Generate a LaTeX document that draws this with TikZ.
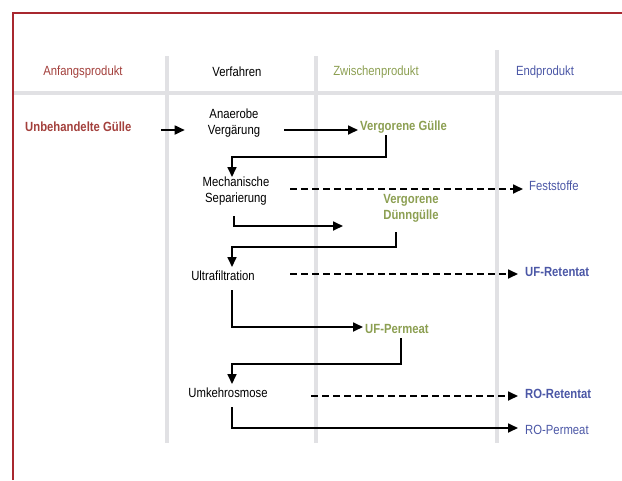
\documentclass[tikz,border=0pt]{standalone}
\usepackage{fontspec}
\setmainfont{Liberation Sans}[FakeStretch=0.85]
\usetikzlibrary{arrows.meta}
\definecolor{framered}{HTML}{A8282F}
\definecolor{redc}{HTML}{A3403C}
\definecolor{greenc}{HTML}{8C9F52}
\definecolor{bluec}{HTML}{4B57A6}
\definecolor{gridc}{HTML}{E1E1E4}
\begin{document}
\begin{tikzpicture}[x=1pt,y=-1pt,
  txt/.style={inner sep=0pt,font=\fontsize{13.3}{16}\selectfont,align=center},
  boldtxt/.style={txt,font=\fontsize{13.3}{16}\selectfont\bfseries},
  grid/.style={draw=gridc,line width=4pt},
  arr/.style={draw=black,line width=1.7pt,-{Triangle[length=10pt,width=9pt]}},
  darr/.style={arr,dash pattern=on 7pt off 4pt}]
\useasboundingbox (0,0) rectangle (622,480);
% grid
\draw[grid] (13,93) -- (622,93);
\draw[grid] (166.5,56) -- (166.5,443);
\draw[grid] (316,56) -- (316,443);
\draw[grid] (497,50) -- (497,443);
% frame
\draw[draw=framered,line width=1.2pt] (13,480) -- (13,13) -- (622,13);
% headers
\node[txt,text=redc] (h1) at (83,72) {Anfangsprodukt};
\node[txt] (h2) at (237,72) {Verfahren};
\node[txt,text=greenc] (h3) at (376,72) {Zwischenprodukt};
\node[txt,text=bluec] (h4) at (545,72) {Endprodukt};
% content nodes
\node[boldtxt,text=redc,anchor=west] (ug) at (25,127) {Unbehandelte Gülle};
\node[txt] (av) at (234,123) {Anaerobe\\Vergärung};
\node[boldtxt,text=greenc,anchor=west] (vgu) at (360,127) {Vergorene Gülle};
\node[txt] (ms) at (236,191) {Mechanische\\Separierung};
\node[txt,text=bluec,anchor=west] (fs) at (529,186) {Feststoffe};
\node[boldtxt,text=greenc] (vd) at (411,208) {Vergorene\\Dünngülle};
\node[txt] (uf) at (223,276) {Ultrafiltration};
\node[boldtxt,text=bluec,anchor=west] (ufr) at (525,272) {UF-Retentat};
\node[boldtxt,text=greenc,anchor=west] (ufp) at (365,329) {UF-Permeat};
\node[txt] (ro) at (228,393) {Umkehrosmose};
\node[boldtxt,text=bluec,anchor=west] (ror) at (525,394) {RO-Retentat};
\node[txt,text=bluec,anchor=west] (rop) at (525,430) {RO-Permeat};
% bend and end coordinates
\coordinate (s1) at (161,130);
\coordinate (s2) at (284,130);
\coordinate (s3) at (386,135);
\coordinate (b3a) at (386,157);
\coordinate (b3b) at (232,157);
\coordinate (e3) at (232,177);
\coordinate (s4) at (290,189);
\coordinate (s5) at (234,216);
\coordinate (b5) at (234,226);
\coordinate (e5) at (343,226);
\coordinate (s6) at (396,232);
\coordinate (b6a) at (396,247);
\coordinate (b6b) at (232,247);
\coordinate (e6) at (232,267);
\coordinate (s7) at (290,274);
\coordinate (s8) at (232,290);
\coordinate (b8) at (232,327);
\coordinate (s9) at (401,338);
\coordinate (b9a) at (401,364);
\coordinate (b9b) at (232,364);
\coordinate (e9) at (232,384);
\coordinate (s10) at (311,396);
\coordinate (s11) at (232,407);
\coordinate (b11) at (232,428);
% connectors
\draw[arr] (s1) -- ([shift={(-23,0)}]av.west |- s1);
\draw[arr] (s2) -- ([shift={(-2,3)}]vgu.west);
\draw[arr] (s3) -- (b3a) -- (b3b) -- (e3);
\draw[darr] (s4) -- ([shift={(-6,3)}]fs.west);
\draw[arr] (s5) -- (b5) -- (e5);
\draw[arr] (s6) -- (b6a) -- (b6b) -- (e6);
\draw[darr] (s7) -- ([shift={(-7,2)}]ufr.west);
\draw[arr] (s8) -- (b8) -- ([shift={(-2,-2)}]ufp.west);
\draw[arr] (s9) -- (b9a) -- (b9b) -- (e9);
\draw[darr] (s10) -- ([shift={(-7,2)}]ror.west);
\draw[arr] (s11) -- (b11) -- ([shift={(-7,-2)}]rop.west);
\end{tikzpicture}
\end{document}
